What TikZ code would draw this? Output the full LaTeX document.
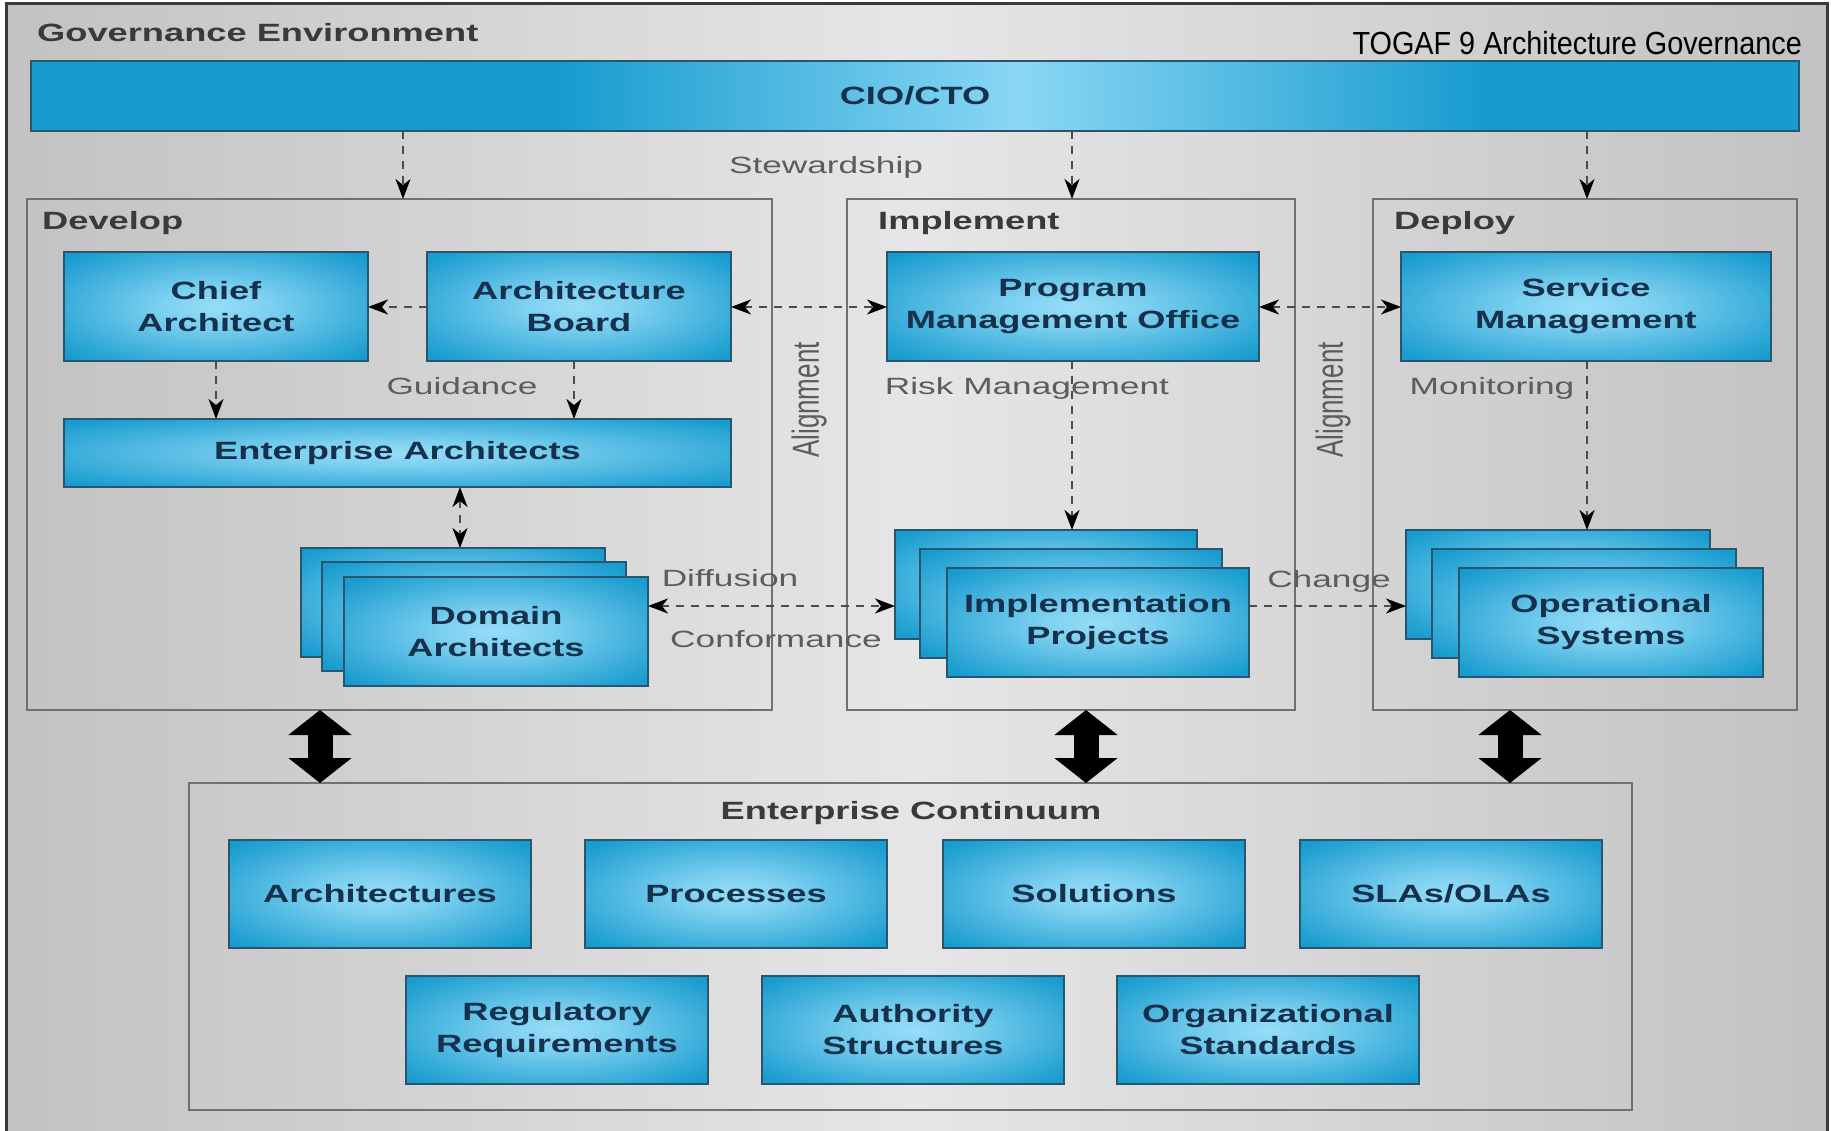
\documentclass[tikz,border=0pt]{standalone}
\usepackage{fontspec}
\usepackage{graphicx}
\usetikzlibrary{arrows.meta}
\setmainfont{Liberation Sans}
\newfontfamily\widebold[FakeStretch=1.45]{Liberation Sans}
\newfontfamily\widereg[FakeStretch=1.5]{Liberation Sans}
\newfontfamily\titlefont[FakeStretch=0.9]{Liberation Sans}
\newfontfamily\uprightsans{Liberation Sans}

\definecolor{bgEdge}{HTML}{C2C2C2}
\definecolor{bgMid}{HTML}{E6E6E6}
\definecolor{frameC}{HTML}{3A3A3A}
\definecolor{panelC}{HTML}{707070}
\definecolor{blueEdge}{HTML}{189CCF}
\definecolor{blueGlow}{HTML}{96DDF8}
\definecolor{boxLine}{HTML}{2A5570}
\definecolor{boxText}{HTML}{16314C}
\definecolor{headText}{HTML}{3A3A3A}
\definecolor{labText}{HTML}{5C5C5C}
\definecolor{dashC}{HTML}{4C4C4C}

% soft glow in the middle of each blue box
\pgfdeclareradialshading{boxglow}{\pgfpointorigin}{color(0bp)=(blueGlow); color(9bp)=(blueGlow!80!blueEdge); color(33bp)=(blueEdge); color(50bp)=(blueEdge); color(75bp)=(blueEdge)}
% light band across the CIO/CTO bar
\pgfdeclarehorizontalshading{barglow}{100bp}{color(0bp)=(blueEdge); color(40bp)=(blueEdge); color(53bp)=(blueGlow!90!blueEdge); color(66bp)=(blueEdge); color(100bp)=(blueEdge)}
% brushed grey paper
\pgfdeclarehorizontalshading{paperglow}{100bp}{color(0bp)=(bgEdge); color(25bp)=(bgEdge); color(50bp)=(bgMid); color(75bp)=(bgEdge); color(100bp)=(bgEdge)}

\tikzset{
  dtip/.tip={Stealth[length=20pt,width=15pt,inset=6pt,color=black]},
  bigtip/.tip={Triangle[length=25pt,width=62pt]},
  panel/.style={rectangle, draw=panelC, line width=2pt, anchor=north west, inner sep=0pt, outer sep=0pt},
  bluebox/.style={rectangle, draw=boxLine, line width=1.5pt, shade, shading=boxglow,
    anchor=north west, inner sep=0pt, outer sep=0pt, align=center, text=boxText,
    font=\widebold\bfseries\fontsize{25pt}{32pt}\selectfont,
    minimum width=304pt, minimum height=109pt},
  heading/.style={anchor=base west, inner sep=0pt, text=headText,
    font=\widebold\bfseries\fontsize{25pt}{30pt}\selectfont},
  flowlabel/.style={anchor=base, inner sep=0pt, text=labText,
    font=\widereg\fontsize{23.5pt}{28pt}\selectfont},
  sidelabel/.style={rotate=90, inner sep=0pt, text=labText,
    font=\uprightsans\fontsize{26pt}{30pt}\selectfont},
  dashlink/.style={draw=dashC, line width=2.2pt, dash pattern=on 8pt off 7pt},
  biglink/.style={draw=black, line width=25pt, bigtip-bigtip},
}

\begin{document}
\begin{tikzpicture}[x=1pt,y=-1pt]
\useasboundingbox (0,0) rectangle (1831,1131);
\clip (0,0) rectangle (1831,1131);
\fill[white] (0,0) rectangle (1831,1131);
\shade[shading=paperglow] (6,4) rectangle (1827,1145);
\draw[frameC, line width=3pt] (6,1145) -- (6,4) -- (1827,4) -- (1827,1145);

% titles
\node[heading] (govhead) at (37,42) {Governance Environment};
\node[anchor=base east, inner sep=0pt, font=\titlefont\fontsize{32pt}{36pt}\selectfont] (title) at (1802,55) {TOGAF 9 Architecture Governance};

% CIO/CTO bar
\node[rectangle, draw=boxLine, line width=1.5pt, shade, shading=barglow, anchor=north west,
  inner sep=0pt, outer sep=0pt, minimum width=1768pt, minimum height=70pt, text=boxText,
  font=\widebold\bfseries\fontsize{25pt}{30pt}\selectfont] (cio) at (31,61) {CIO/CTO};

% panels
\node[panel, minimum width=745pt, minimum height=511pt] (develop) at (27,199) {};
\node[panel, minimum width=448pt, minimum height=511pt] (implement) at (847,199) {};
\node[panel, minimum width=424pt, minimum height=511pt] (deploy) at (1373,199) {};
\node[panel, minimum width=1443pt, minimum height=327pt] (continuum) at (189,783) {};
\node[heading] (devhead) at (42,230) {Develop};
\node[heading] (imphead) at (878,230) {Implement};
\node[heading] (dephead) at (1394,230) {Deploy};
\node[heading, anchor=base] (echead) at (911,819) {Enterprise Continuum};

% Develop
\node[bluebox] (chief) at (64,252) {Chief\\Architect};
\node[bluebox] (board) at (427,252) {Architecture\\Board};
\node[bluebox, minimum width=667pt, minimum height=68pt] (entarch) at (64,419) {Enterprise Architects};
\node[bluebox] (domA) at (301,548) {};
\node[bluebox] (domB) at (322,562) {};
\node[bluebox] (domC) at (344,577) {Domain\\Architects};

% Implement
\node[bluebox, minimum width=372pt] (pmo) at (887,252) {Program\\Management Office};
\node[bluebox, minimum width=302pt] (implA) at (895,530) {};
\node[bluebox, minimum width=302pt] (implB) at (920,549) {};
\node[bluebox, minimum width=302pt] (implC) at (947,568) {Implementation\\Projects};

% Deploy
\node[bluebox, minimum width=370pt] (svc) at (1401,252) {Service\\Management};
\node[bluebox] (opsA) at (1406,530) {};
\node[bluebox] (opsB) at (1432,549) {};
\node[bluebox] (opsC) at (1459,568) {Operational\\Systems};

% Enterprise Continuum
\node[bluebox, minimum width=302pt, minimum height=108pt] (archs) at (229,840) {Architectures};
\node[bluebox, minimum width=302pt, minimum height=108pt] (procs) at (585,840) {Processes};
\node[bluebox, minimum width=302pt, minimum height=108pt] (sols) at (943,840) {Solutions};
\node[bluebox, minimum width=302pt, minimum height=108pt] (slas) at (1300,840) {SLAs/OLAs};
\node[bluebox, minimum width=302pt, minimum height=108pt] (regreq) at (406,976) {Regulatory\\Requirements};
\node[bluebox, minimum width=302pt, minimum height=108pt] (authst) at (762,976) {Authority\\Structures};
\node[bluebox, minimum width=302pt, minimum height=108pt] (orgstd) at (1117,976) {Organizational\\Standards};

% flow labels
\node[flowlabel] (stew) at (826,174) {Stewardship};
\node[flowlabel] (guide) at (462,395) {Guidance};
\node[flowlabel] (risk) at (1027,395) {Risk Management};
\node[flowlabel] (monit) at (1492,395) {Monitoring};
\node[flowlabel] (diff) at (730,586) {Diffusion};
\node[flowlabel] (conf) at (776,647) {Conformance};
\node[flowlabel] (chg) at (1329,587) {Change};
\node[sidelabel] (alignA) at (809,400) {\scalebox{1}[1.45]{Alignment}};
\node[sidelabel] (alignB) at (1333,400) {\scalebox{1}[1.45]{Alignment}};

% connector columns and rows
\coordinate (colDev) at (403,0);
\coordinate (colImp) at (1072,0);
\coordinate (colDep) at (1587,0);
\coordinate (colGuideL) at (216,0);
\coordinate (colGuideR) at (574,0);
\coordinate (colDom) at (460,0);
\coordinate (rowTop) at (0,307);
\coordinate (rowMid) at (0,606);
\coordinate (colBigA) at (320,0);
\coordinate (colBigB) at (1086,0);
\coordinate (colBigC) at (1510,0);

% dashed links
\draw[dashlink,-dtip] (cio.south -| colDev) -- (develop.north -| colDev);
\draw[dashlink,-dtip] (cio.south -| colImp) -- (implement.north -| colImp);
\draw[dashlink,-dtip] (cio.south -| colDep) -- (deploy.north -| colDep);
\draw[dashlink,-dtip] (board.west |- rowTop) -- (chief.east |- rowTop);
\draw[dashlink,-dtip] (chief.south -| colGuideL) -- (entarch.north -| colGuideL);
\draw[dashlink,-dtip] (board.south -| colGuideR) -- (entarch.north -| colGuideR);
\draw[dashlink,dtip-dtip] (entarch.south -| colDom) -- (domA.north -| colDom);
\draw[dashlink,dtip-dtip] (board.east |- rowTop) -- (pmo.west |- rowTop);
\draw[dashlink,dtip-dtip] (pmo.east |- rowTop) -- (svc.west |- rowTop);
\draw[dashlink,-dtip] (pmo.south -| colImp) -- (implA.north -| colImp);
\draw[dashlink,-dtip] (svc.south -| colDep) -- (opsA.north -| colDep);
\draw[dashlink,dtip-dtip] (domC.east |- rowMid) -- (implA.west |- rowMid);
\draw[dashlink,-dtip] (implC.east |- rowMid) -- (opsA.west |- rowMid);

% links to the Enterprise Continuum
\draw[biglink] (develop.south -| colBigA) -- (continuum.north -| colBigA);
\draw[biglink] (implement.south -| colBigB) -- (continuum.north -| colBigB);
\draw[biglink] (deploy.south -| colBigC) -- (continuum.north -| colBigC);
\end{tikzpicture}
\end{document}
